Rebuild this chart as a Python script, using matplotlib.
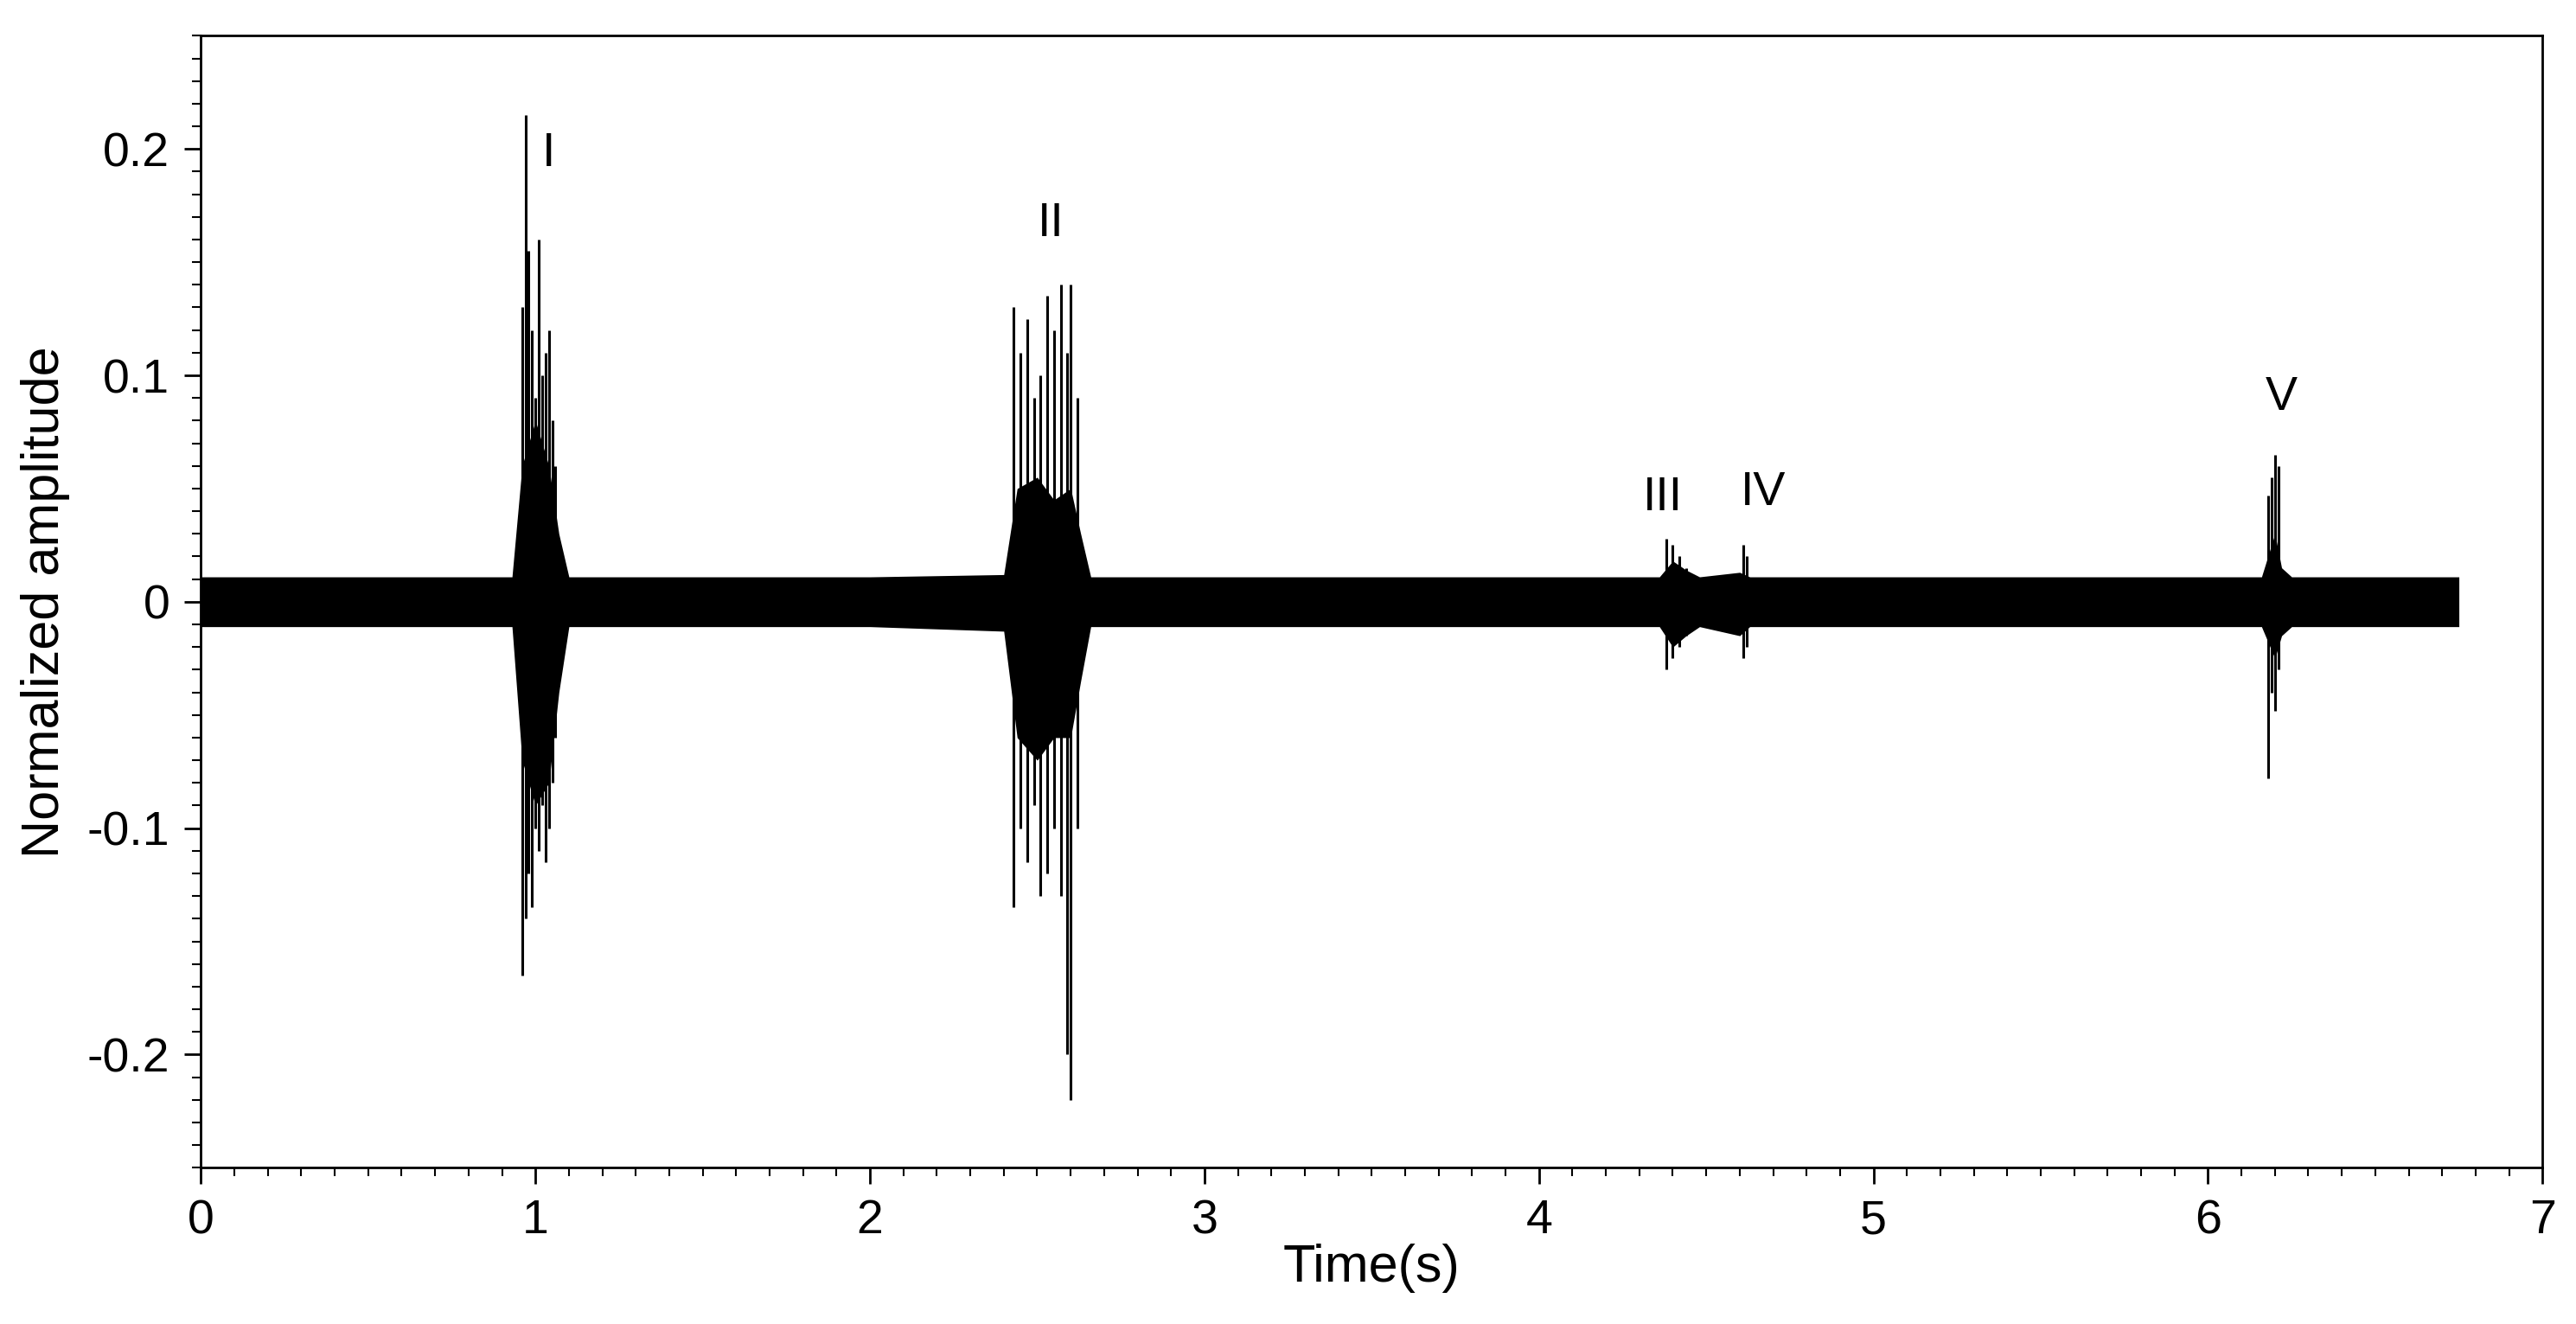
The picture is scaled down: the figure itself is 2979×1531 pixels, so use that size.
import matplotlib
matplotlib.use("Agg")
import matplotlib.pyplot as plt
from matplotlib.ticker import MultipleLocator

plt.rcParams['font.family'] = ['Liberation Sans', 'DejaVu Sans']

# background noise envelope (time, upper, lower)
env_t = [0.0, 0.5, 0.93, 0.96, 1.0, 1.04, 1.07, 1.1, 2.0, 2.4, 2.44, 2.5, 2.55, 2.6, 2.63, 2.66, 3.5, 4.36, 4.4, 4.44, 4.48, 4.6, 4.63, 5.5, 6.16, 6.2, 6.22, 6.25, 6.75]
env_hi = [0.011, 0.011, 0.011, 0.06, 0.08, 0.06, 0.03, 0.011, 0.011, 0.012, 0.05, 0.055, 0.045, 0.05, 0.03, 0.011, 0.011, 0.011, 0.018, 0.014, 0.011, 0.013, 0.011, 0.011, 0.011, 0.03, 0.015, 0.011, 0.011]
env_lo = [-0.011, -0.011, -0.011, -0.07, -0.09, -0.08, -0.04, -0.011, -0.011, -0.013, -0.06, -0.07, -0.06, -0.06, -0.035, -0.011, -0.011, -0.011, -0.02, -0.015, -0.011, -0.015, -0.011, -0.011, -0.011, -0.025, -0.015, -0.011, -0.011]

# individual spikes (time, top, bottom)
spk_t = [0.96, 0.97, 0.98, 0.99, 1.0, 1.01, 1.02, 1.03, 1.04, 1.05, 1.06,
         2.43, 2.45, 2.47, 2.49, 2.51, 2.53, 2.55, 2.57, 2.59, 2.6, 2.62,
         4.38, 4.4, 4.42, 4.44, 4.61, 4.62,
         6.18, 6.19, 6.2, 6.21]
spk_top = [0.13, 0.215, 0.155, 0.12, 0.09, 0.16, 0.1, 0.11, 0.12, 0.08, 0.06,
           0.13, 0.11, 0.125, 0.09, 0.1, 0.135, 0.12, 0.14, 0.11, 0.14, 0.09,
           0.028, 0.025, 0.02, 0.015, 0.025, 0.02,
           0.047, 0.055, 0.065, 0.06]
spk_bot = [-0.165, -0.14, -0.12, -0.135, -0.1, -0.11, -0.09, -0.115, -0.1, -0.08, -0.06,
           -0.135, -0.1, -0.115, -0.09, -0.13, -0.12, -0.1, -0.13, -0.2, -0.22, -0.1,
           -0.03, -0.025, -0.02, -0.015, -0.025, -0.02,
           -0.078, -0.04, -0.048, -0.03]

labels = ['I', 'II', 'III', 'IV', 'V']
label_x = [1.04, 2.54, 4.37, 4.67, 6.22]
label_y = [0.188, 0.157, 0.036, 0.038, 0.08]

fig = plt.figure(figsize=(29.79, 15.31), dpi=100)
ax = fig.add_axes([0.078, 0.118, 0.909, 0.855])
ax.fill_between(env_t, env_lo, env_hi, color='black', lw=0)
ax.vlines(spk_t, spk_bot, spk_top, color='black', lw=2.2)
for s, x, y in zip(labels, label_x, label_y):
    ax.text(x, y, s, fontsize=40, ha='center', va='bottom')

ax.set_xlim(0, 7)
ax.set_ylim(-0.25, 0.25)
ax.set_xticks([0, 1, 2, 3, 4, 5, 6, 7])
ax.set_yticks([-0.2, -0.1, 0, 0.1, 0.2])
ax.set_yticklabels(['-0.2', '-0.1', '0', '0.1', '0.2'])
ax.xaxis.set_minor_locator(MultipleLocator(0.1))
ax.yaxis.set_minor_locator(MultipleLocator(0.01))
ax.tick_params(which='major', length=14, width=2, labelsize=40, pad=12)
ax.tick_params(which='minor', length=7, width=1.5)
for sp in ax.spines.values():
    sp.set_linewidth(2)
ax.set_xlabel('Time(s)', fontsize=44, labelpad=0)
ax.set_ylabel('Normalized amplitude', fontsize=44, labelpad=14)
fig.savefig('out.png', dpi=100)
